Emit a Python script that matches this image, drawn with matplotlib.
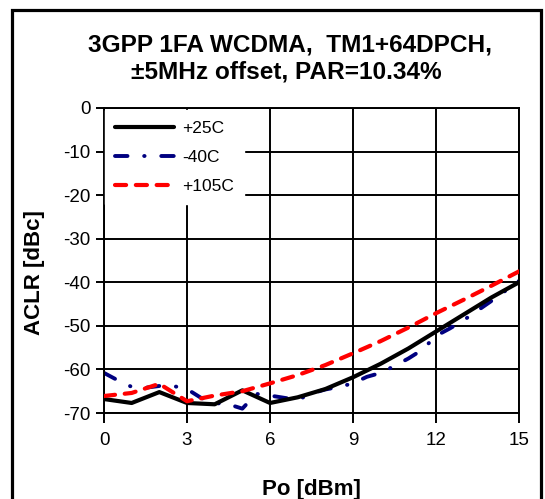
import matplotlib
matplotlib.use("Agg")
import matplotlib.pyplot as plt
from matplotlib.patches import Rectangle

plt.rcParams['font.family'] = ['Liberation Sans', 'DejaVu Sans']
plt.rcParams['lines.scale_dashes'] = False

# Data
x_int = [0, 1, 2, 3, 4, 5, 6, 7, 8, 9, 10, 11, 12, 13, 14, 15]
aclr_25c = [-66.8, -67.7, -65.2, -67.7, -68.0, -64.8, -67.7, -66.4, -64.5,
            -61.8, -58.7, -55.2, -51.3, -47.4, -43.5, -40.0]
aclr_105c = [-66.1, -65.4, -63.3, -67.3, -66.0, -65.0, -63.2, -61.3, -59.0,
             -56.3, -53.5, -50.4, -47.1, -44.0, -40.8, -37.5]
x_half = [0, 0.5, 1, 1.5, 2, 2.5, 3, 3.5, 4, 4.5, 5, 5.5, 6, 6.5, 7, 7.5, 8,
          8.5, 9, 9.5, 10, 10.5, 11, 11.5, 12, 12.5, 13, 13.5, 14, 14.5, 15]
aclr_m40c = [-60.8, -62.5, -64.0, -64.2, -63.8, -63.8, -64.5, -66.5, -67.7,
             -68.0, -69.0, -65.6, -66.0, -66.5, -67.0, -65.5, -64.6, -64.0,
             -63.2, -61.7, -60.8, -59.2, -57.5, -55.5, -52.3, -50.6, -48.7,
             -46.5, -44.3, -42.0, -39.7]
labels = ['+25C', '-40C', '+105C']
x_ticks = [0, 3, 6, 9, 12, 15]
y_ticks = [0, -10, -20, -30, -40, -50, -60, -70]
y_ticklabels = ['0', '-10', '-20', '-30', '-40', '-50', '-60', '-70']

W, H = 545, 499
fig = plt.figure(figsize=(W / 100, H / 100), dpi=100)
ax = fig.add_axes([104 / W, 1 - 413 / H, (519 - 104) / W, (413 - 108) / H])

ax.plot(x_int, aclr_25c, color='black', lw=3.0, solid_capstyle='round',
        label=labels[0], zorder=3)
ax.plot(x_half, aclr_m40c, color='#000080', lw=2.8,
        dashes=(9, 12, 0.3, 12), dash_capstyle='round',
        label=labels[1], zorder=2)
ax.plot(x_int, aclr_105c, color='#ff0000', lw=3.0,
        dashes=(8, 7), dash_capstyle='round', label=labels[2], zorder=4)

ax.set_xlim(0, 15)
ax.set_ylim(-70, 0)
ax.set_xticks(x_ticks)
ax.set_xticklabels([str(v) for v in x_ticks])
ax.set_yticks(y_ticks)
ax.set_yticklabels(y_ticklabels)
ax.grid(True, color='black', lw=1.4)
ax.set_axisbelow(True)
for s in ax.spines.values():
    s.set_linewidth(1.4)
ax.tick_params(axis='both', direction='out', width=1.4, labelsize=13.5,
               labelcolor='black')
ax.tick_params(axis='x', length=7, pad=7)
ax.tick_params(axis='y', length=5.5, pad=4)

ax.set_xlabel('Po [dBm]', fontsize=16, fontweight='bold')
ax.xaxis.set_label_coords(0.5, -0.215)
ax.set_ylabel('ACLR [dBc]', fontsize=16, fontweight='bold')
ax.yaxis.set_label_coords(-0.142, 0.46)

leg = ax.legend(loc='upper left', bbox_to_anchor=(0.002, 0.993),
                fontsize=12.5, frameon=True, fancybox=False, framealpha=1,
                edgecolor='white', handlelength=3.4, handletextpad=0.45,
                borderpad=0.6, labelspacing=0.8, borderaxespad=0)
leg.set_zorder(10)

fig.text(290 / W, 1 - 45 / H, '3GPP 1FA WCDMA,  TM1+64DPCH,', ha='center',
         va='center', fontsize=17.6, fontweight='bold')
fig.text(286 / W, 1 - 72 / H, '\u00b15MHz offset, PAR=10.34%', ha='center',
         va='center', fontsize=17.6, fontweight='bold')

fig.patches.append(Rectangle((12 / W, -0.05), (541 - 12) / W, (H - 10) / H + 0.05,
                             transform=fig.transFigure, fill=False,
                             edgecolor='black', lw=2.3))

fig.savefig('out.png', dpi=100)
